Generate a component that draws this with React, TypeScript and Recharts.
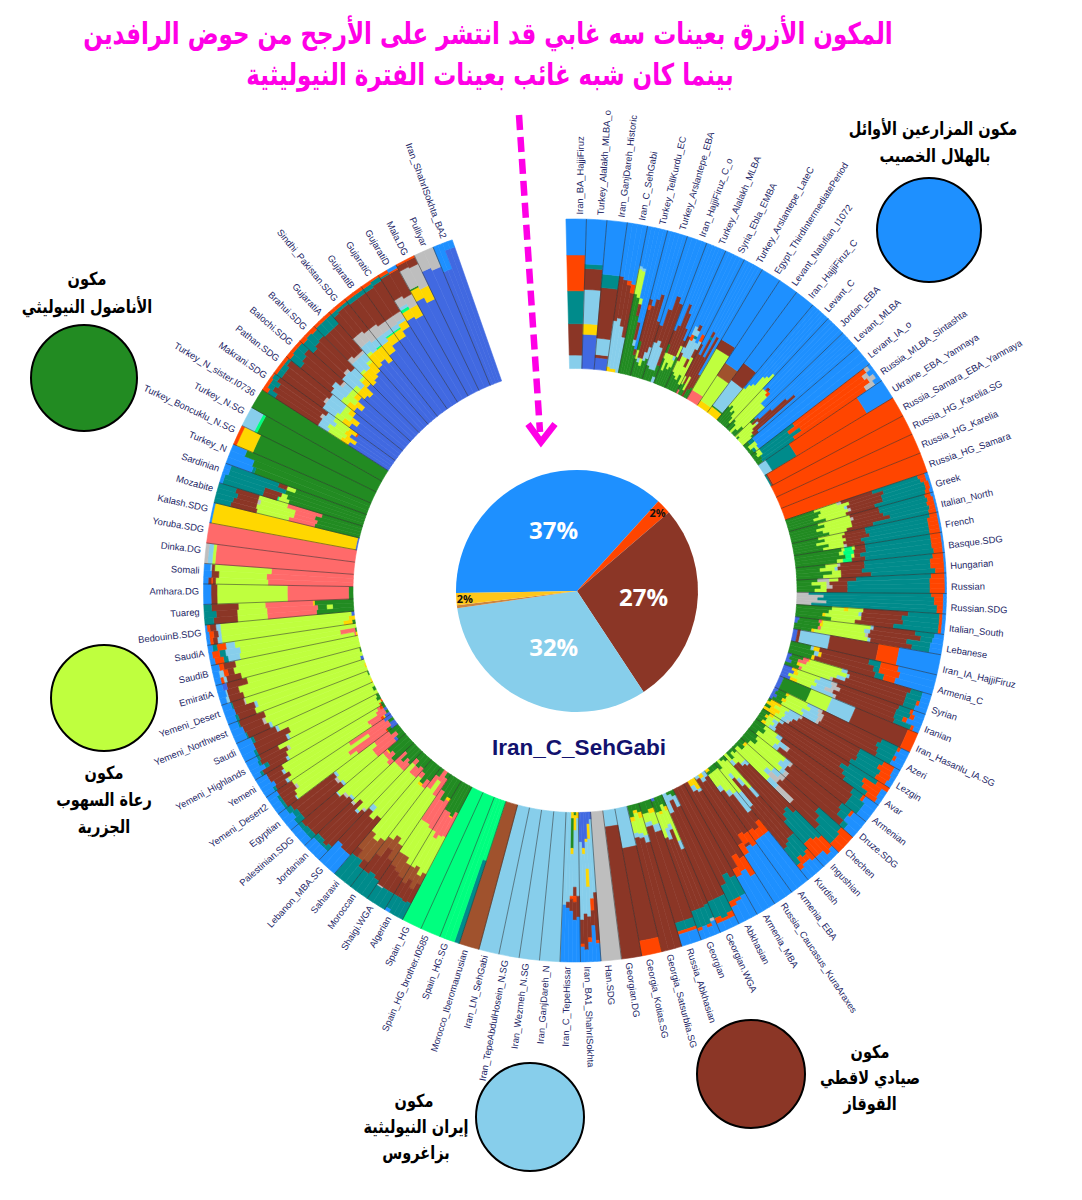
import React from "react";
import { PieChart, Pie, Sector } from "recharts";

// ---------- categories ----------
const wedgeLabels = [
  "Iran_BA_HajjiFiruz","Turkey_Alalakh_MLBA_o","Iran_GanjDareh_Historic","Iran_C_SehGabi","Turkey_TellKurdu_EC","Turkey_Arslantepe_EBA","Iran_HajjiFiruz_C_o","Turkey_Alalakh_MLBA","Syria_Ebla_EMBA","Turkey_Arslantepe_LateC","Egypt_ThirdIntermediatePeriod","Levant_Natufian_I1072","Iran_HajjiFiruz_C","Levant_C","Jordan_EBA","Levant_MLBA","Levant_IA_o","Russia_MLBA_Sintashta","Ukraine_EBA_Yamnaya","Russia_Samara_EBA_Yamnaya","Russia_HG_Karelia.SG","Russia_HG_Karelia","Russia_HG_Samara",
  "Greek","Italian_North","French","Basque.SDG","Hungarian","Russian","Russian.SDG","Italian_South","Lebanese","Iran_IA_HajjiFiruz","Armenia_C","Syrian","Iranian","Iran_Hasanlu_IA.SG","Azeri","Lezgin","Avar","Armenian","Druze.SDG","Chechen","Ingushian","Kurdish","Armenia_EBA","Russia_Caucasus_KuraAraxes","Armenia_MBA","Abkhasian","Georgian.WGA","Georgian","Russia_Abkhasian","Georgia_Satsurblia.SG","Georgia_Kotias.SG","Georgian.DG",
  "Han.SDG","Iran_BA1_ShahrISokhta","Iran_C_TepeHissar","Iran_GanjDareh_N","Iran_Wezmeh_N.SG","Iran_TepeAbdulHosein_N.SG","Iran_LN_SehGabi","Morocco_Iberomaurusian","Spain_HG.SG","Spain_HG_brother.I0585","Spain_HG","Algerian","Shaigi.WGA","Moroccan","Saharawi","Lebanon_MBA.SG","Jordanian","Palestinian.SDG","Egyptian","Yemeni_Desert2","Yemeni","Yemeni_Highlands","Saudi","Yemeni_Northwest","Yemeni_Desert","EmiratiA","SaudiB","SaudiA","BedouinB.SDG","Tuareg","Amhara.DG","Somali","Dinka.DG","Yoruba.SDG","Kalash.SDG","Mozabite","Sardinian","Turkey_N","Turkey_Boncuklu_N.SG","Turkey_N.SG","Turkey_N_sister.I0736","Makrani.SDG","Pathan.SDG","Balochi.SDG","Brahui.SDG","GujaratiA","Sindhi_Pakistan.SDG","GujaratiB","GujaratiC","GujaratiD","Mala.DG","Pulliyar","Iran_ShahrISokhta_BA2",
];

// ---------- series values: per population, samples split by "|", stack from the inside out ----------
const nearEastAncient = [
  "k9 c21 t22 o24 b24","r23 y7 k23 c14 t3 b30","r8 c2 k11 c34 t9 b36",
  "y3 k31 c30 b36|y2 k34 c26 b38|y2 k29 c28 o3 b38|k24 c30 o6 b40",
  "g54 l17 k2 b27|g52 l18 k2 b28|g40 c8 l4 b48|g20 k4 c12 b64|g14 c4 b82",
  "g12 l6 g6 c22 o3 c4 b47|g10 k3 c36 b51|g8 l5 c41 b46|g12 k6 c40 b42|g14 k8 c18 b60",
  "g10 k16 c12 b62|g8 k20 c22 b50|g8 k16 c36 b40|k4 g8 c44 b44",
  "g18 l4 g6 c10 b62|g10 l12 c20 b58|g16 l6 c36 b42|g12 l10 c30 b48|g14 l5 k3 c20 b58|g22 l8 c4 b66",
  "g12 l8 c6 k4 c8 b62|g10 l14 k12 o4 k6 b54|g8 l16 k14 t2 k4 c4 b52|g12 l6 c6 k12 b64|g6 l20 c6 k6 o5 b57",
  "s3 g4 l6 c24 b63|g8 c22 b70|g4 l10 c28 t2 c4 b52|c30 b70|g6 c30 c10 b54|g8 c10 b82",
  "s7 l32 c7 b54","y4 l20 n10 b66","y5 g1 k21 c14 b59",
  "g12 l16 b72|g14 l18 b68|g10 l24 b66|g12 l30 b58|g8 l36 b56|g4 l44 b52",
  "g8 l28 b64|g6 l30 o1 c2 b61|l34 o3 b63|g4 l24 b72|g8 l20 b72",
  "l14 g4 b82|g2 l12 c6 b80|l16 k2 c12 b70|l12 c30 b58|l10 c38 b52|l8 g2 c4 b86",
  "g4 t4 b92|g2 l6 b92|g3 t2 l2 b93",
  "g4 l3 t28 o60 a3 b2|g3 l4 t22 o62 a4 b5|g5 t32 o56 a5 b2|g4 t26 o58 a7 b5",
  "k6 t19 o55 b20","t1 c1 o98","o100","o100","o100",
];
const europeAndCaucasus = [
  "g20 l16 a3 c22 t32 o5 b2|g24 l20 c24 t26 o4 b2|g22 l18 k2 c24 t30 o3 b1|g18 l24 a2 c22 t30 o3 b1|g26 l14 c20 t35 o3 b2",
  "g20 l22 c20 t32 o4 b2|g24 l18 a2 c18 t33 o4 b1|g18 l24 c22 t30 o5 b1|g22 l20 c26 t27 o4 b1|g26 l12 c18 t38 o5 b1",
  "g18 l18 c14 t44 o5 b1|g22 l12 c16 t42 o7 b1|g16 l20 c16 t40 o7 b1|g24 l10 c12 t46 o7 b1|g20 l14 a2 c12 t44 o7 b1",
  "g32 l2 p5 l2 c7 t44 o7 b1|g30 l3 p7 c8 t44 o7 b1|g34 p4 l2 c4 t48 o7 b1|g28 l4 p6 c9 t46 o6 b1",
  "g20 l8 a2 c16 t46 o7 b1|g16 l10 k2 c18 t44 o9 b1|g24 l6 c14 t46 o9 b1|g18 l12 c20 t43 o6 b1",
  "g14 a8 l6 c12 t50 o9 b1|g10 l10 a2 c12 t55 o10 b1|g16 l4 a4 c10 t55 o10 b1|g12 l8 c14 t55 o10 b1",
  "a8 t82 o8 b2|a18 t74 o6 b2|a14 t78 o6 b2|a20 t74 o4 b2|a10 t84 o4 b2",
  "g24 l8 y3 l10 c30 t21 o2 b2|g22 l20 k2 c27 t25 o2 b2|g18 y2 l24 c28 t24 o2 b2|g24 l16 c26 t30 o2 b2",
  "r3 g13 s2 y1 l32 k2 c28 t13 b6|r2 g15 y2 l28 k4 c34 t8 b7|g16 s2 l30 a2 c26 t16 b8|g12 y2 l36 k2 c28 t12 b8",
  "r3 c2 k20 c33 o14 b28",
  "g14 k2 y4 c34 t8 o12 b26|g17 k3 y2 c36 t4 o14 b24|g16 y2 c42 t6 o8 b26",
  "r3 g8 s4 y1 l22 k4 c44 t8 b6|r2 g6 s6 l28 k2 c40 t10 b6|r4 g4 y2 l26 k6 c42 t8 o2 b6|g10 s2 l20 a2 c50 t8 b8",
  "r6 y4 l16 k8 a4 c44 t8 o2 b8|r8 y3 l12 k12 a6 c40 t10 o3 b6|r5 l20 k6 a6 c44 t6 o3 b10|r7 y5 l10 k16 a2 c42 t12 o2 b4",
  "r3 g20 l15 k17 c38 o7",
  "r3 g6 y2 l14 k8 a3 c44 t12 o2 b6|r2 g8 l18 k6 a4 c40 t14 b8|r4 g4 y3 l12 k12 a3 c42 t12 o2 b6|r2 g7 l16 k10 a2 c44 t11 b8",
  "g2 y8 l6 k8 a2 c44 t18 o8 b4|y6 l8 k10 c46 t16 o10 b4|g4 y7 l4 k6 c50 t18 o8 b3|y9 l5 k4 a2 c48 t20 o8 b4",
  "g6 y3 l5 k3 c52 t22 o9|g4 y2 l4 k4 c50 t18 o14 b4|g6 l6 k2 c54 t16 o12 b4|g4 y3 l3 k5 c56 t18 o8 b3",
  "g8 l10 k4 c58 t8 o2 b10|g10 l12 k6 a2 c52 t10 b8|g6 l14 k4 c58 t10 b8",
  "g8 l24 k4 a2 c42 t8 o2 b10|g10 l20 k6 c46 t6 b12|g6 l28 k3 a3 c48 t4 b8",
  "g4 y2 l24 k6 a4 c30 t20 o10|g6 l20 k4 a8 c36 t18 o8|g2 l30 k8 a14 c24 t14 o8",
  "g4 l8 k4 c44 t24 o10 b6|g2 l10 k2 c40 t28 o14 b4|g6 l4 c46 t24 o12 b8|l6 k4 c50 t20 o12 b8",
  "g4 l24 k8 c34 t14 o8 b8|g2 l16 k6 c46 t16 o4 b10|l12 k4 c56 t12 o6 b10|g6 l20 k12 c36 t14 o4 b8",
  "g4 l20 k16 c8 o10 b42|g4 l16 k4 c28 o6 b42|y2 g2 l10 k4 c32 o8 b42",
  "k4 c46 o10 b40|y3 k3 c42 o8 c2 b42|k2 c52 o8 b38",
  "y8 k2 c52 o14 b24|y4 k4 c50 o12 b30|c66 o6 b28",
  "c70 t14 b16|c66 t18 o2 b14|c72 t12 o4 b12",
  "g4 k8 c66 t12 o4 b6|g2 k4 c72 t14 o2 b6|k14 c64 t12 o4 b6",
  "g8 y3 l22 k6 c40 t10 a2 b9|g6 l14 k4 c56 t12 o2 b6|g10 y2 l10 k8 c50 t12 b8|r2 g8 l18 c52 t12 o2 b6",
  "g6 y3 l8 k5 c62 t6 o2 b8|g8 l6 k3 c67 t6 o2 b8",
  "g6 y4 l12 k5 c73|g4 y2 l14 k3 c77|g8 y3 l8 k3 c78",
  "k27 c63 o10","k11 c89",
];
const iranAndHunters = [
  "a100",
  "r5 k49 c32 o2 b12|r8 y10 k40 o8 c10 b24|r18 y2 k18 y12 k20 c14 o3 b13|r24 y4 k40 c24 b8|r20 k52 c16 o2 b10",
  "y4 k52 c14 b30|g2 y10 k38 c6 o4 c12 b28|y4 g20 y4 k28 o2 c8 b34|k60 c4 b36|k62 b38",
  "k100","k100","k100","k100","n100","p42 t58|p100|p100|p100","p100","p100",
];
const arabiaAndAfrica = [
  "g20 s18 l28 n8 c14 t12|g24 y1 s14 l30 n10 c10 t11|g22 s20 l22 n10 c14 t12|g22 s16 l28 n12 c10 t10 b2",
  "g14 y2 s22 l28 n10 c12 t12|g18 s18 l26 n12 c14 t12|g12 s24 l26 n10 c16 a1 t11",
  "g4 s14 l40 n12 c16 t14|s8 l46 n10 c20 t16|g6 s10 l42 n14 c14 t14",
  "g12 s6 l44 n18 c6 t14|g16 y2 l46 n16 t18|g10 s4 l48 n14 c6 t18",
  "g8 s8 l36 c32 b16|g10 s6 l40 c28 b16|g6 s4 l38 k4 c30 b18",
  "g12 s6 l36 a2 c32 t4 b8|g10 s8 l40 k2 c30 t2 b8|g14 s4 l34 c36 t4 b8|g8 s10 l38 a2 c30 t4 b8",
  "g18 s4 l32 k2 c34 t4 b6|g14 s6 l36 a2 c32 t4 b6|g16 y1 s3 l40 k1 c30 t3 b6",
  "g6 r2 s16 l28 k2 c34 t6 b6|g4 s20 l30 a2 c32 t4 b8|g8 s12 l32 k2 c36 t4 b6",
  "r5 g3 o1 s24 l50 k1 c8 t2 b6|r4 s34 l44 c10 t2 b6|g4 s16 l58 a2 c12 t2 b6|r6 s28 l46 c12 b8",
  "r4 y1 o2 s8 l66 k2 c8 t2 b7|g2 s14 l62 c12 b10|r2 s6 l72 k2 c10 b8|g2 o2 s2 l74 c12 b8",
  "g2 o1 l70 k2 c18 t2 b5|o1 l72 c14 t3 b10|g3 l66 a2 c20 t2 b7|g2 l74 c14 t2 b8",
  "l66 k2 c22 t2 b8|g2 l62 c26 b10|l70 k2 c16 t2 b10",
  "y1 l72 k2 c16 t1 b8|l76 a2 c14 b8|g1 l74 c18 t1 b6",
  "l80 c12 t2 b6|y1 l76 k2 c14 b7|l84 a1 c8 t1 b6",
  "r2 l82 c10 k2 b4|l86 c8 k1 b5|g1 l78 c14 r3 b4",
  "l82 c10 k2 o2 b4|l86 c4 o3 k3 b4|l84 c8 o3 b5",
  "y1 s1 l78 k8 t3 o6 b3|g1 s10 l68 k10 t4 o5 b2|l82 k6 o6 t3 b3",
  "g2 y6 l82 k3 c3 o2 b2|y4 l86 k2 c3 o3 b2|r2 l88 k3 c4 o2 b1",
  "g25 s33 l20 c16 t6|g14 l4 g6 s34 l20 c14 t8|g26 y1 s32 l18 c18 t5",
  "g3 s41 l47 c4 b5",
  "s57 l35 c2 o1 c2 b3|s58 l32 c5 b5|s55 l38 c2 k1 b4",
  "s93 l2 k3 a2","s100",
];
const asiaAndAnatolia = [
  "r1 y98 b1",
  "g31 s18 l22 c18 t11|g30 s16 l26 c16 t12|g32 s14 l24 a2 c14 t14|g28 s24 l20 c16 t12",
  "g52 l7 p1 c10 t28 b2|g54 l4 c12 t28 b2|g56 t40 b4|g50 l6 c6 t34 b4",
  "g80 t2 b18|g83 b17|g90 b10","g86 y12 o2","g89 p2 k9","g100",
  "r32 y6 l10 k8 c34 t6 o4|r28 y8 l14 k6 c38 t4 o2|r34 y4 l8 k10 a2 c34 t6 o2|r30 o1 y6 l12 k6 c40 t4 o1",
  "r38 y6 l6 k10 c34 t4 o2|r34 y6 l8 k12 a2 c32 t4 o2|r40 y4 l4 k12 c36 t2 o2",
  "r42 y6 l5 k9 c26 t9 o3|r38 y6 l8 k12 c26 t8 o2|r44 y4 l4 k6 a2 c32 t6 o2",
  "r42 y6 l4 k10 c26 t9 o3|r40 y8 k14 a2 c26 t8 o2|r46 y5 l2 k8 c30 t6 o3",
  "r44 y10 l2 k8 a4 c22 t8 o2|r46 y8 k10 a2 c24 t8 o2|r48 y8 l2 k6 a2 c24 t8 o2",
  "r50 y10 l2 k6 a8 c19 t3 o2|r52 y8 k8 a8 c20 t2 o2|r48 y12 p1 k5 a8 c22 t2 o2",
  "r52 y8 k6 a8 c21 t3 o2|r56 y6 p1 k3 a6 c23 t3 o2",
  "r56 y6 p1 k3 a6 c23 t3 o2|r60 y5 k2 a5 c24 t3 o1",
  "r64 y6 p2 k2 a6 c17 t1 o2|r62 y8 a8 c19 o1 b2",
  "r72 y8 g1 a14 c4 o1|r68 y10 a16 c5 o1",
  "r88 a12|r86 a14",
  "r82 b18|r82 b18|r95 b5|r95 b5",
];

const componentColors: Record<string, string> = {
  b: "#1E90FF", o: "#FF4500", c: "#8B3626", k: "#87CEEB", y: "#FFD700", g: "#228B22",
  l: "#BFFF3E", t: "#008B8B", s: "#FF6A6A", r: "#4169E1", p: "#00FF7F", n: "#A0522D", a: "#BEBEBE",
};

// Iran_C_SehGabi mean composition (centre pie)
const sehGabiShares = [
  { name: "blue", value: 37, label: "37%", color: "#1E90FF" },
  { name: "orange", value: 2, label: "2%", color: "#FF4500" },
  { name: "brown", value: 27, label: "27%", color: "#8B3626" },
  { name: "sky", value: 32, label: "32%", color: "#87CEEB" },
  { name: "sienna", value: 0.4, label: "", color: "#CD853F" },
  { name: "gold", value: 1.6, label: "2%", color: "#FFC61A" },
];

const legendKeys = [
  { color: "#1E90FF", x: 929, y: 230, r: 52 },
  { color: "#228B22", x: 84, y: 378, r: 53 },
  { color: "#BFFF3E", x: 104, y: 698, r: 53 },
  { color: "#8B3626", x: 751, y: 1074, r: 54 },
  { color: "#87CEEB", x: 530, y: 1117, r: 54 },
];

const titleLines = [
  { text: "المكون الأزرق بعينات سه غابي قد انتشر على الأرجح من حوض الرافدين", x: 488, y: 34 },
  { text: "بينما كان شبه غائب بعينات الفترة النيوليثية", x: 490, y: 75 },
];
const legendTexts = [
  { text: "مكون المزارعين الأوائل", x: 933, y: 129 },
  { text: "بالهلال الخصيب", x: 935, y: 156 },
  { text: "مكون", x: 87, y: 279 },
  { text: "الأناضول النيوليثي", x: 87, y: 307 },
  { text: "مكون", x: 104, y: 773 },
  { text: "رعاة السهوب", x: 104, y: 800 },
  { text: "الجزرية", x: 104, y: 827 },
  { text: "مكون", x: 870, y: 1052 },
  { text: "صيادي لاقطي", x: 870, y: 1078 },
  { text: "القوقاز", x: 870, y: 1104 },
  { text: "مكون", x: 414, y: 1101 },
  { text: "إيران النيوليثية", x: 416, y: 1127 },
  { text: "بزاغروس", x: 416, y: 1153 },
];

const allSamples = [...nearEastAncient, ...europeAndCaucasus, ...iranAndHunters, ...arabiaAndAfrica, ...asiaAndAnatolia];
const ringData = wedgeLabels.map((name, i) => ({ name, value: 1, samples: allSamples[i] ?? "a100" }));

const parseSample = (s: string) =>
  s.trim().split(" ").map((t) => ({ color: componentColors[t[0]], value: Number(t.slice(1)) }));

const WedgeShape = (props: any) => {
  const { cx, cy, innerRadius, outerRadius, startAngle, endAngle, payload, index } = props;
  const samples = String(payload?.samples ?? props.samples).split("|").map(parseSample);
  const step = (endAngle - startAngle) / samples.length;
  const rad = (startAngle * Math.PI) / 180;
  return (
    <g>
      {samples.flatMap((segs, si) => {
        const total = segs.reduce((a, x) => a + x.value, 0);
        let cum = 0;
        return segs.map((seg, k) => {
          const r0 = innerRadius + ((outerRadius - innerRadius) * cum) / total;
          cum += seg.value;
          const r1 = innerRadius + ((outerRadius - innerRadius) * cum) / total;
          return (
            <Sector
              key={`${si}-${k}`}
              cx={cx}
              cy={cy}
              innerRadius={r0}
              outerRadius={r1}
              startAngle={startAngle + step * si}
              endAngle={startAngle + step * (si + 1)}
              fill={seg.color}
              stroke={seg.color}
              strokeWidth={0.6}
            />
          );
        });
      })}
      {index > 0 && (
        <line
          x1={cx + innerRadius * Math.cos(rad)}
          y1={cy - innerRadius * Math.sin(rad)}
          x2={cx + outerRadius * Math.cos(rad)}
          y2={cy - outerRadius * Math.sin(rad)}
          stroke="#2a2a2a"
          strokeOpacity={0.75}
          strokeWidth={0.7}
        />
      )}
    </g>
  );
};

const WedgeLabel = (props: any) => {
  const { cx, cy, midAngle, outerRadius, name, payload } = props;
  const adjusted = midAngle - 0.5;
  const clock = ((90 - adjusted) % 360 + 360) % 360;
  const r = outerRadius + 4.5;
  const rad = (adjusted * Math.PI) / 180;
  const x = cx + r * Math.cos(rad);
  const y = cy - r * Math.sin(rad);
  const right = clock < 180;
  const rot = right ? clock - 90 : clock + 90;
  return (
    <text
      x={x}
      y={y}
      transform={`rotate(${rot} ${x} ${y})`}
      textAnchor={right ? "start" : "end"}
      dominantBaseline="central"
      fontFamily="'Liberation Sans', Arial, sans-serif"
      fontSize={9.4}
      fill="#241f66"
    >
      {payload?.name ?? name}
    </text>
  );
};

const ShareLabel = (props: any) => {
  const { cx, cy, midAngle, outerRadius, payload } = props;
  const row = payload ?? props;
  if (!row.label) return null;
  const big = row.value >= 10;
  const r = outerRadius * (big ? 0.53 : 0.93);
  const rad = (midAngle * Math.PI) / 180;
  return (
    <text
      x={cx + r * Math.cos(rad) + (big ? 3 : 0)}
      y={cy - r * Math.sin(rad) - (big ? 3 : 0)}
      textAnchor="middle"
      dominantBaseline="central"
      fontFamily="'Open Sans', 'Liberation Sans', sans-serif"
      fontWeight={700}
      fontSize={big ? 24 : 11}
      fill={big ? "#ffffff" : "#111111"}
    >
      {row.label}
    </text>
  );
};

const KeyCircle = (props: any) => (
  <circle cx={props.cx} cy={props.cy} r={props.outerRadius} fill={props.fill} stroke="#000" strokeWidth={2} />
);

const arabic: React.CSSProperties = {
  position: "absolute",
  whiteSpace: "nowrap",
  direction: "rtl",
  fontFamily: "'DejaVu Sans', sans-serif",
  fontWeight: 700,
  lineHeight: 1,
};

export default function App() {
  return (
    <div style={{ position: "absolute", left: 0, top: 0, width: 1082, height: 1200, background: "#fff", overflow: "hidden" }}>
      <PieChart width={1082} height={1200} margin={{ top: 0, right: 0, bottom: 0, left: 0 }}>
        <Pie
          data={ringData}
          dataKey="value"
          nameKey="name"
          cx={575}
          cy={590.5}
          innerRadius={222}
          outerRadius={371.5}
          startAngle={91.4}
          endAngle={-250.7}
          paddingAngle={0}
          stroke="none"
          shape={WedgeShape}
          label={WedgeLabel}
          labelLine={false}
          isAnimationActive={false}
        />
        <Pie
          data={sehGabiShares}
          dataKey="value"
          nameKey="name"
          cx={577}
          cy={591}
          innerRadius={0}
          outerRadius={121}
          startAngle={-179}
          endAngle={-539}
          stroke="none"
          label={ShareLabel}
          labelLine={false}
          isAnimationActive={false}
          shape={(p: any) => <Sector {...p} fill={p.payload?.color ?? p.color} stroke="none" />}
        />
        {legendKeys.map((k) => (
          <Pie
            key={k.color}
            data={[{ name: k.color, value: 1 }]}
            dataKey="value"
            cx={k.x}
            cy={k.y}
            innerRadius={0}
            outerRadius={k.r}
            fill={k.color}
            shape={KeyCircle}
            isAnimationActive={false}
          />
        ))}
      </PieChart>

      <svg width={1082} height={1200} style={{ position: "absolute", left: 0, top: 0, pointerEvents: "none" }}>
        <line x1={519} y1={115} x2={540} y2={432} stroke="#FF00E6" strokeWidth={6.5} strokeDasharray="15 7" />
        <polyline points="528,424 541,442 555,424" fill="none" stroke="#FF00E6" strokeWidth={6.5} />
        <text x={579} y={747} textAnchor="middle" dominantBaseline="central" fontFamily="'Liberation Sans', Arial, sans-serif" fontWeight={700} fontSize={22.5} fill="#12126e">
          Iran_C_SehGabi
        </text>
      </svg>

      {titleLines.map((t) => (
        <div key={t.text} style={{ ...arabic, left: t.x, top: t.y, fontSize: 23, color: "#FF00E6", transform: "translate(-50%,-50%) scale(1,1.3)" }}>{t.text}</div>
      ))}
      {legendTexts.map((t) => (
        <div key={t.text + t.x} style={{ ...arabic, left: t.x, top: t.y, fontSize: 14.5, color: "#000", transform: "translate(-50%,-50%) scale(1,1.25)" }}>{t.text}</div>
      ))}
    </div>
  );
}
